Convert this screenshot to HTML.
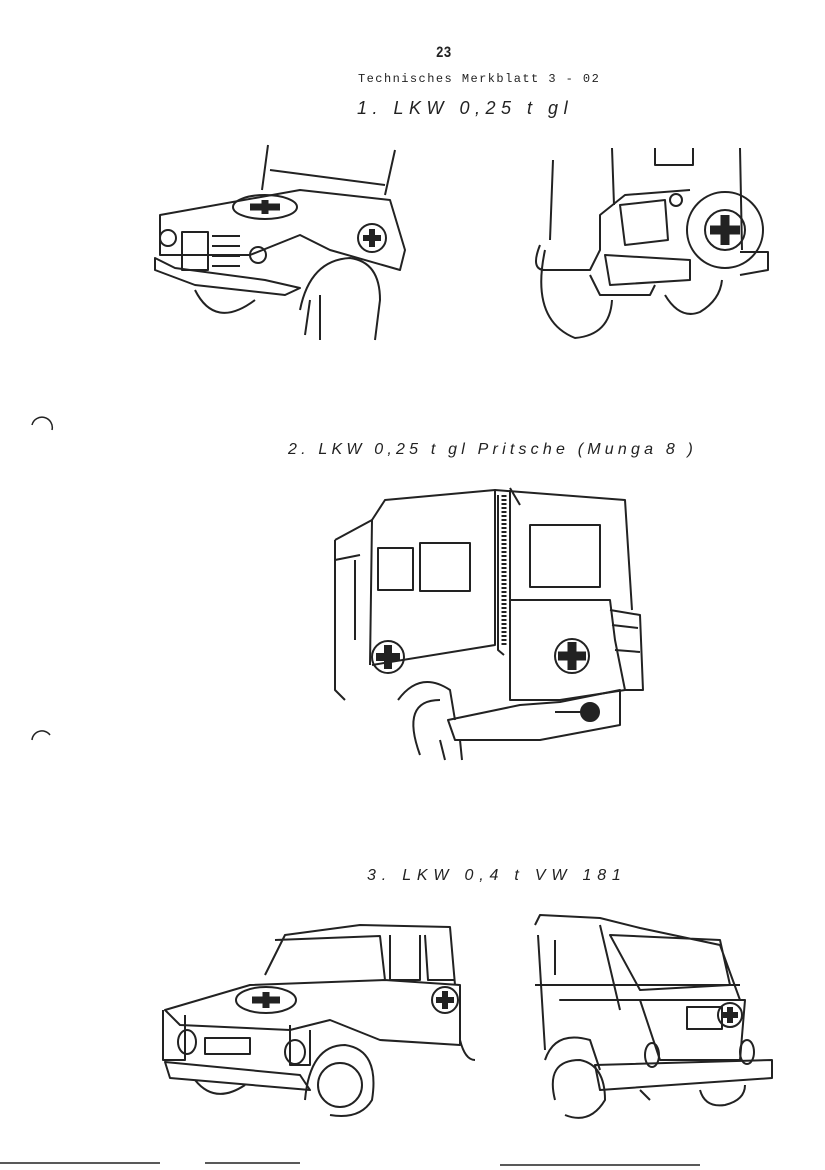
<!DOCTYPE html>
<html><head><meta charset="utf-8"><style>
body{margin:0;background:#fff;}
.pg{position:relative;width:825px;height:1170px;overflow:hidden;background:#fff;font-family:"Liberation Mono",monospace;color:#222;}
.t{position:absolute;white-space:nowrap;}
.it{font-family:"Liberation Sans",sans-serif;font-style:italic;font-size:17px;letter-spacing:6px;}
svg{position:absolute;left:0;top:0;}
</style></head><body><div class="pg">
<div class="t" style="left:434px;top:44px;font-size:16px;font-weight:bold;transform:scaleX(0.8);">23</div>
<div class="t" style="left:358px;top:72px;font-size:12px;letter-spacing:1.45px;">Technisches Merkblatt 3 - 02</div>
<div class="t it" style="left:357px;top:98px;font-size:18px;letter-spacing:5.5px;">1.  LKW  0,25 t gl</div>
<div class="t it" style="left:288px;top:441px;font-size:16px;letter-spacing:4.2px;">2.   LKW  0,25 t  gl Pritsche (Munga 8 )</div>
<div class="t it" style="left:367px;top:867px;font-size:16px;letter-spacing:5.8px;">3.  LKW  0,4  t  VW 181</div>
<svg width="825" height="1170" fill="none" stroke="#222" stroke-width="2" stroke-linejoin="round">
<path d="M32 425 a10 10 0 0 1 20 5 M32 740 a10 10 0 0 1 18 -5" stroke-width="1.5"/>
<path d="M0 1163 L160 1163 M205 1163 L300 1163 M500 1165 L700 1165" stroke-width="1.5"/>
<path d="M268 145 L262 190 M395 150 L385 195 M270 170 L385 185"/>
<path d="M160 215 L300 190 L390 200 L405 250 L400 270 L330 250 L300 235 L250 255 L160 255 Z"/>
<path d="M155 258 L155 270 L195 285 L285 295 L300 288 L265 280 L175 268 Z"/>
<ellipse cx="265" cy="207" rx="32" ry="12"/>
<path d="M250 207 h30 M265 200 v14" stroke-width="7"/>
<rect x="182" y="232" width="26" height="38"/>
<path d="M212 236 h28 M212 246 h28 M212 256 h28 M212 266 h28"/>
<circle cx="168" cy="238" r="8"/><circle cx="258" cy="255" r="8"/>
<circle cx="372" cy="238" r="14"/><path d="M363 238 h18 M372 229 v18" stroke-width="6"/>
<path d="M195 290 Q215 330 255 300 M300 310 Q310 260 350 258 Q380 262 380 300 L375 340 M310 300 L305 335 M320 295 L320 340"/>
<path d="M553 160 L550 240 M612 148 L614 205 M655 148 L655 165 L693 165 L693 148 M740 148 L742 250"/>
<path d="M540 245 Q530 270 545 270 L590 270 L600 250 L600 215 L625 195 L690 190"/>
<path d="M620 205 L665 200 L668 240 L625 245 Z M605 255 L690 260 L690 280 L610 285 Z"/>
<path d="M590 275 L600 295 L650 295 L655 285 M740 252 L768 252 L768 270 L740 275"/>
<circle cx="725" cy="230" r="38"/><circle cx="725" cy="230" r="20"/>
<path d="M710 230 h30 M725 215 v30" stroke-width="9"/>
<circle cx="676" cy="200" r="6"/>
<path d="M545 250 Q530 320 575 338 Q610 335 612 300 M665 295 Q680 320 700 312 Q720 300 722 280"/>
<path d="M335 540 L372 520 L370 665 M335 540 L335 690 L345 700 M355 560 L355 640 M335 560 L360 555"/>
<path d="M372 520 L385 500 L495 490 L495 645 L372 665"/>
<path d="M495 490 L625 500 L632 610 M510 488 L520 505"/>
<rect x="378" y="548" width="35" height="42"/><rect x="420" y="543" width="50" height="48"/>
<rect x="530" y="525" width="70" height="62"/>
<path d="M498 495 L498 650 L504 655 M510 490 L510 650" />
<path d="M504 495 v150" stroke-width="5" stroke-dasharray="2 2"/>
<path d="M510 600 L610 600 L615 640 L625 690 L560 700 L510 700 Z"/>
<circle cx="572" cy="656" r="17"/><path d="M558 656 h28 M572 642 v28" stroke-width="9"/>
<circle cx="388" cy="657" r="16"/><path d="M376 657 h24 M388 645 v24" stroke-width="8"/>
<path d="M610 610 L640 615 L643 690 L625 690 M612 625 L638 628 M615 650 L640 652"/>
<path d="M448 720 L520 705 L560 702 L620 690 L620 725 L540 740 L455 740 Z"/>
<path d="M398 700 Q420 670 450 690 L455 720 M420 755 Q400 700 440 700 M440 740 L445 760 M460 740 L462 760"/>
<circle cx="590" cy="712" r="9" fill="#222"/><path d="M555 712 L590 712"/>
<path d="M265 975 L285 935 L360 925 L450 927 L455 985 M275 940 L380 936 L385 980 M390 935 L390 980 L420 980 L420 935 M425 935 L428 980 L455 980"/>
<path d="M165 1010 L250 985 L385 980 L460 985 L460 1045 L380 1040 L330 1020 L290 1030 L180 1025 Z"/>
<ellipse cx="266" cy="1000" rx="30" ry="13"/><path d="M252 1000 h28 M266 992 v16" stroke-width="7"/>
<circle cx="445" cy="1000" r="13"/><path d="M436 1000 h18 M445 991 v18" stroke-width="6"/>
<path d="M163 1010 L163 1060 L185 1060 L185 1015 M290 1025 L290 1065 L310 1065 L310 1030"/>
<rect x="205" y="1038" width="45" height="16"/>
<ellipse cx="187" cy="1042" rx="9" ry="12"/><ellipse cx="295" cy="1052" rx="10" ry="12"/>
<path d="M165 1062 L300 1075 L310 1090 L170 1078 Z"/>
<path d="M195 1080 Q215 1105 245 1085 M305 1100 Q310 1045 345 1045 Q380 1050 372 1100 Q360 1120 330 1115 M460 1040 Q465 1060 475 1060"/>
<circle cx="340" cy="1085" r="22"/>
<path d="M535 925 L540 915 L600 918 L640 928 L720 945 L740 1000 M538 935 L545 1050 M555 940 L555 975 M600 925 L620 1010 M610 935 L720 940 L730 985 L640 990 Z"/>
<path d="M535 985 L740 985 M560 1000 L640 1000 L660 1060 L740 1060 L745 1000 Z"/>
<rect x="687" y="1007" width="35" height="22"/>
<circle cx="730" cy="1015" r="12"/><path d="M722 1015 h16 M730 1007 v16" stroke-width="6"/>
<ellipse cx="652" cy="1055" rx="7" ry="12"/><ellipse cx="747" cy="1052" rx="7" ry="12"/>
<path d="M595 1065 L772 1060 L772 1078 L600 1090 Z M640 1090 L650 1100"/>
<path d="M545 1060 Q555 1030 590 1040 L600 1070 M555 1100 Q545 1060 580 1060 Q605 1065 605 1100 Q590 1125 565 1115 M700 1090 Q705 1108 725 1105 Q745 1100 745 1085"/>
</svg>
</div></body></html>
